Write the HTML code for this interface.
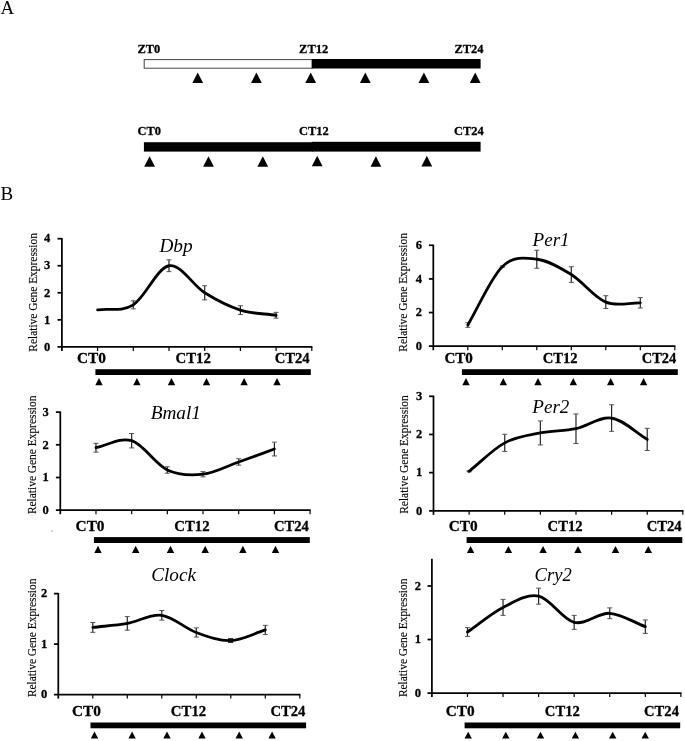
<!DOCTYPE html>
<html><head><meta charset="utf-8"><title>Figure</title>
<style>
html,body{margin:0;padding:0;background:#fff;}
body{width:685px;height:741px;overflow:hidden;}
svg{display:block;font-family:"Liberation Serif",serif;fill:#000;}
</style></head><body>
<svg width="685" height="741" viewBox="0 0 685 741">
<rect width="685" height="741" fill="#fff"/>
<g opacity="0.999">
<text transform="translate(0.50,14.00) scale(1.0,1)" font-size="19" font-weight="normal" font-style="normal" text-anchor="start" >A</text>
<text transform="translate(0.50,200.00) scale(1.0,1)" font-size="19" font-weight="normal" font-style="normal" text-anchor="start" >B</text>
<text transform="translate(137.50,52.60) scale(0.945,1)" font-size="13.2" font-weight="bold" font-style="normal" text-anchor="start"  stroke="#000" stroke-width="0.3">ZT0</text>
<text transform="translate(299.10,52.60) scale(0.945,1)" font-size="13.2" font-weight="bold" font-style="normal" text-anchor="start"  stroke="#000" stroke-width="0.3">ZT12</text>
<text transform="translate(454.50,52.60) scale(0.945,1)" font-size="13.2" font-weight="bold" font-style="normal" text-anchor="start"  stroke="#000" stroke-width="0.3">ZT24</text>
<rect x="144.2" y="59.6" width="168" height="8.6" fill="#fff" stroke="#444" stroke-width="1"/>
<rect x="311.8" y="59" width="168.8" height="9.5" fill="#000"/>
<polygon points="197.7,72.4 192.3,83.0 203.1,83.0" fill="#000"/>
<polygon points="256.4,72.4 251.0,83.0 261.8,83.0" fill="#000"/>
<polygon points="310.7,72.4 305.3,83.0 316.1,83.0" fill="#000"/>
<polygon points="365.3,72.4 359.9,83.0 370.7,83.0" fill="#000"/>
<polygon points="423.9,72.4 418.5,83.0 429.3,83.0" fill="#000"/>
<polygon points="475.2,72.4 469.8,83.0 480.6,83.0" fill="#000"/>
<text transform="translate(137.50,134.70) scale(0.945,1)" font-size="13.2" font-weight="bold" font-style="normal" text-anchor="start"  stroke="#000" stroke-width="0.3">CT0</text>
<text transform="translate(299.00,134.70) scale(0.945,1)" font-size="13.2" font-weight="bold" font-style="normal" text-anchor="start"  stroke="#000" stroke-width="0.3">CT12</text>
<text transform="translate(454.00,134.70) scale(0.945,1)" font-size="13.2" font-weight="bold" font-style="normal" text-anchor="start"  stroke="#000" stroke-width="0.3">CT24</text>
<rect x="143.9" y="142.2" width="169" height="9.4" fill="#000"/>
<rect x="311.8" y="141.8" width="168.8" height="9.8" fill="#000"/>
<polygon points="149.6,156.2 144.2,166.8 155.0,166.8" fill="#000"/>
<polygon points="208.5,156.2 203.1,166.8 213.9,166.8" fill="#000"/>
<polygon points="262.8,156.2 257.4,166.8 268.2,166.8" fill="#000"/>
<polygon points="317.2,155.7 311.8,166.3 322.6,166.3" fill="#000"/>
<polygon points="375.9,156.2 370.5,166.8 381.3,166.8" fill="#000"/>
<polygon points="426.8,155.8 421.4,166.4 432.2,166.4" fill="#000"/>
<line x1="61.90" y1="238.10" x2="61.90" y2="350.90" stroke="#000" stroke-width="1.75"/>
<line x1="57.50" y1="346.90" x2="312.40" y2="346.90" stroke="#000" stroke-width="1.75"/>
<text transform="translate(50.40,350.60) scale(0.93,1)" font-size="13.5" font-weight="bold" font-style="normal" text-anchor="end"  stroke="#000" stroke-width="0.3">0</text>
<line x1="57.50" y1="319.85" x2="61.90" y2="319.85" stroke="#000" stroke-width="1.75"/>
<text transform="translate(50.40,323.55) scale(0.93,1)" font-size="13.5" font-weight="bold" font-style="normal" text-anchor="end"  stroke="#000" stroke-width="0.3">1</text>
<line x1="57.50" y1="292.80" x2="61.90" y2="292.80" stroke="#000" stroke-width="1.75"/>
<text transform="translate(50.40,296.50) scale(0.93,1)" font-size="13.5" font-weight="bold" font-style="normal" text-anchor="end"  stroke="#000" stroke-width="0.3">2</text>
<line x1="57.50" y1="265.75" x2="61.90" y2="265.75" stroke="#000" stroke-width="1.75"/>
<text transform="translate(50.40,269.45) scale(0.93,1)" font-size="13.5" font-weight="bold" font-style="normal" text-anchor="end"  stroke="#000" stroke-width="0.3">3</text>
<line x1="57.50" y1="238.70" x2="61.90" y2="238.70" stroke="#000" stroke-width="1.75"/>
<text transform="translate(50.40,242.40) scale(0.93,1)" font-size="13.5" font-weight="bold" font-style="normal" text-anchor="end"  stroke="#000" stroke-width="0.3">4</text>
<line x1="97.60" y1="346.90" x2="97.60" y2="350.90" stroke="#000" stroke-width="1.2"/>
<line x1="133.30" y1="346.90" x2="133.30" y2="350.90" stroke="#000" stroke-width="1.2"/>
<line x1="169.00" y1="346.90" x2="169.00" y2="350.90" stroke="#000" stroke-width="1.2"/>
<line x1="204.70" y1="346.90" x2="204.70" y2="350.90" stroke="#000" stroke-width="1.2"/>
<line x1="240.40" y1="346.90" x2="240.40" y2="350.90" stroke="#000" stroke-width="1.2"/>
<line x1="276.10" y1="346.90" x2="276.10" y2="350.90" stroke="#000" stroke-width="1.2"/>
<line x1="311.80" y1="346.90" x2="311.80" y2="350.90" stroke="#000" stroke-width="1.2"/>
<text transform="translate(37.2,292.4) rotate(-90)" font-size="13.2" text-anchor="middle" textLength="118.5" lengthAdjust="spacingAndGlyphs" stroke="#000" stroke-width="0.15">Relative Gene Expression</text>
<text transform="translate(77.00,362.60) scale(1.035,1)" font-size="14.8" font-weight="bold" font-style="normal" text-anchor="start"  stroke="#000" stroke-width="0.3">CT0</text>
<text transform="translate(210.90,362.60) scale(1.0,1)" font-size="14.8" font-weight="bold" font-style="normal" text-anchor="end"  stroke="#000" stroke-width="0.3">CT12</text>
<text transform="translate(274.70,362.60) scale(0.99,1)" font-size="14.8" font-weight="bold" font-style="normal" text-anchor="start"  stroke="#000" stroke-width="0.3">CT24</text>
<rect x="95.4" y="369.2" width="215.4" height="5.8" fill="#000"/>
<polygon points="99.0,377.9 95.3,385.2 102.7,385.2" fill="#000"/>
<polygon points="136.9,377.9 133.2,385.2 140.6,385.2" fill="#000"/>
<polygon points="171.5,377.9 167.8,385.2 175.2,385.2" fill="#000"/>
<polygon points="206.5,377.9 202.8,385.2 210.2,385.2" fill="#000"/>
<polygon points="244.1,377.9 240.4,385.2 247.8,385.2" fill="#000"/>
<polygon points="277.0,377.9 273.3,385.2 280.7,385.2" fill="#000"/>
<line x1="133.30" y1="300.84" x2="133.30" y2="308.84" stroke="#262626" stroke-width="1.2"/>
<line x1="130.80" y1="300.84" x2="135.80" y2="300.84" stroke="#555" stroke-width="1"/>
<line x1="130.80" y1="308.84" x2="135.80" y2="308.84" stroke="#555" stroke-width="1"/>
<line x1="169.00" y1="259.85" x2="169.00" y2="271.65" stroke="#262626" stroke-width="1.2"/>
<line x1="166.50" y1="259.85" x2="171.50" y2="259.85" stroke="#555" stroke-width="1"/>
<line x1="166.50" y1="271.65" x2="171.50" y2="271.65" stroke="#555" stroke-width="1"/>
<line x1="204.70" y1="285.70" x2="204.70" y2="299.90" stroke="#262626" stroke-width="1.2"/>
<line x1="202.20" y1="285.70" x2="207.20" y2="285.70" stroke="#555" stroke-width="1"/>
<line x1="202.20" y1="299.90" x2="207.20" y2="299.90" stroke="#555" stroke-width="1"/>
<line x1="240.40" y1="305.71" x2="240.40" y2="314.51" stroke="#262626" stroke-width="1.2"/>
<line x1="237.90" y1="305.71" x2="242.90" y2="305.71" stroke="#555" stroke-width="1"/>
<line x1="237.90" y1="314.51" x2="242.90" y2="314.51" stroke="#555" stroke-width="1"/>
<line x1="276.10" y1="312.35" x2="276.10" y2="318.15" stroke="#262626" stroke-width="1.2"/>
<line x1="273.60" y1="312.35" x2="278.60" y2="312.35" stroke="#555" stroke-width="1"/>
<line x1="273.60" y1="318.15" x2="278.60" y2="318.15" stroke="#555" stroke-width="1"/>
<path d="M97.60,309.84 C109.50,308.17 121.40,312.19 133.30,304.84 C145.20,297.49 157.10,267.76 169.00,265.75 C180.90,263.74 192.80,285.41 204.70,292.80 C216.60,300.19 228.50,306.37 240.40,310.11 C252.30,313.85 264.20,313.54 276.10,315.25" fill="none" stroke="#000" stroke-width="2.8" stroke-linecap="round" stroke-linejoin="round"/>
<text transform="translate(159.40,252.40) scale(1.05,1)" font-size="18.4" font-weight="normal" font-style="italic" text-anchor="start" >Dbp</text>
<line x1="433.30" y1="244.68" x2="433.30" y2="350.20" stroke="#000" stroke-width="1.75"/>
<line x1="428.90" y1="346.20" x2="675.40" y2="346.20" stroke="#000" stroke-width="1.75"/>
<text transform="translate(422.00,349.90) scale(0.93,1)" font-size="13.5" font-weight="bold" font-style="normal" text-anchor="end"  stroke="#000" stroke-width="0.3">0</text>
<line x1="428.90" y1="312.56" x2="433.30" y2="312.56" stroke="#000" stroke-width="1.75"/>
<text transform="translate(422.00,316.26) scale(0.93,1)" font-size="13.5" font-weight="bold" font-style="normal" text-anchor="end"  stroke="#000" stroke-width="0.3">2</text>
<line x1="428.90" y1="278.92" x2="433.30" y2="278.92" stroke="#000" stroke-width="1.75"/>
<text transform="translate(422.00,282.62) scale(0.93,1)" font-size="13.5" font-weight="bold" font-style="normal" text-anchor="end"  stroke="#000" stroke-width="0.3">4</text>
<line x1="428.90" y1="245.28" x2="433.30" y2="245.28" stroke="#000" stroke-width="1.75"/>
<text transform="translate(422.00,248.98) scale(0.93,1)" font-size="13.5" font-weight="bold" font-style="normal" text-anchor="end"  stroke="#000" stroke-width="0.3">6</text>
<line x1="467.80" y1="346.20" x2="467.80" y2="350.20" stroke="#000" stroke-width="1.2"/>
<line x1="502.30" y1="346.20" x2="502.30" y2="350.20" stroke="#000" stroke-width="1.2"/>
<line x1="536.80" y1="346.20" x2="536.80" y2="350.20" stroke="#000" stroke-width="1.2"/>
<line x1="571.30" y1="346.20" x2="571.30" y2="350.20" stroke="#000" stroke-width="1.2"/>
<line x1="605.80" y1="346.20" x2="605.80" y2="350.20" stroke="#000" stroke-width="1.2"/>
<line x1="640.30" y1="346.20" x2="640.30" y2="350.20" stroke="#000" stroke-width="1.2"/>
<line x1="674.80" y1="346.20" x2="674.80" y2="350.20" stroke="#000" stroke-width="1.2"/>
<text transform="translate(406.8,292.4) rotate(-90)" font-size="13.2" text-anchor="middle" textLength="118.5" lengthAdjust="spacingAndGlyphs" stroke="#000" stroke-width="0.15">Relative Gene Expression</text>
<text transform="translate(444.40,362.60) scale(1.035,1)" font-size="14.6" font-weight="bold" font-style="normal" text-anchor="start"  stroke="#000" stroke-width="0.3">CT0</text>
<text transform="translate(577.50,362.60) scale(1.0,1)" font-size="14.6" font-weight="bold" font-style="normal" text-anchor="end"  stroke="#000" stroke-width="0.3">CT12</text>
<text transform="translate(641.80,362.60) scale(0.99,1)" font-size="14.6" font-weight="bold" font-style="normal" text-anchor="start"  stroke="#000" stroke-width="0.3">CT24</text>
<rect x="461.9" y="369.2" width="215.9" height="5.8" fill="#000"/>
<polygon points="466.0,377.9 462.3,385.2 469.7,385.2" fill="#000"/>
<polygon points="503.3,377.9 499.6,385.2 507.0,385.2" fill="#000"/>
<polygon points="538.0,377.9 534.3,385.2 541.7,385.2" fill="#000"/>
<polygon points="573.3,377.9 569.6,385.2 577.0,385.2" fill="#000"/>
<polygon points="610.7,377.9 607.0,385.2 614.4,385.2" fill="#000"/>
<polygon points="643.6,377.9 639.9,385.2 647.3,385.2" fill="#000"/>
<line x1="467.80" y1="322.71" x2="467.80" y2="327.31" stroke="#262626" stroke-width="1.2"/>
<line x1="465.30" y1="322.71" x2="470.30" y2="322.71" stroke="#555" stroke-width="1"/>
<line x1="465.30" y1="327.31" x2="470.30" y2="327.31" stroke="#555" stroke-width="1"/>
<line x1="502.30" y1="265.94" x2="502.30" y2="267.34" stroke="#262626" stroke-width="1.2"/>
<line x1="499.80" y1="265.94" x2="504.80" y2="265.94" stroke="#555" stroke-width="1"/>
<line x1="499.80" y1="267.34" x2="504.80" y2="267.34" stroke="#555" stroke-width="1"/>
<line x1="536.80" y1="250.24" x2="536.80" y2="268.24" stroke="#262626" stroke-width="1.2"/>
<line x1="534.30" y1="250.24" x2="539.30" y2="250.24" stroke="#555" stroke-width="1"/>
<line x1="534.30" y1="268.24" x2="539.30" y2="268.24" stroke="#555" stroke-width="1"/>
<line x1="571.30" y1="266.75" x2="571.30" y2="282.35" stroke="#262626" stroke-width="1.2"/>
<line x1="568.80" y1="266.75" x2="573.80" y2="266.75" stroke="#555" stroke-width="1"/>
<line x1="568.80" y1="282.35" x2="573.80" y2="282.35" stroke="#555" stroke-width="1"/>
<line x1="605.80" y1="295.73" x2="605.80" y2="308.53" stroke="#262626" stroke-width="1.2"/>
<line x1="603.30" y1="295.73" x2="608.30" y2="295.73" stroke="#555" stroke-width="1"/>
<line x1="603.30" y1="308.53" x2="608.30" y2="308.53" stroke="#555" stroke-width="1"/>
<line x1="640.30" y1="297.60" x2="640.30" y2="308.00" stroke="#262626" stroke-width="1.2"/>
<line x1="637.80" y1="297.60" x2="642.80" y2="297.60" stroke="#555" stroke-width="1"/>
<line x1="637.80" y1="308.00" x2="642.80" y2="308.00" stroke="#555" stroke-width="1"/>
<path d="M467.80,325.01 C479.30,305.55 490.80,277.60 502.30,266.64 C513.80,255.68 525.30,257.92 536.80,259.24 C548.30,260.56 559.80,267.40 571.30,274.55 C582.80,281.70 594.30,297.42 605.80,302.13 C617.30,306.84 628.80,302.58 640.30,302.80" fill="none" stroke="#000" stroke-width="2.8" stroke-linecap="round" stroke-linejoin="round"/>
<text transform="translate(532.50,245.90) scale(0.995,1)" font-size="19.2" font-weight="normal" font-style="italic" text-anchor="start" >Per1</text>
<line x1="60.30" y1="411.50" x2="60.30" y2="514.20" stroke="#000" stroke-width="1.75"/>
<line x1="55.90" y1="510.20" x2="310.66" y2="510.20" stroke="#000" stroke-width="1.75"/>
<text transform="translate(48.90,513.90) scale(0.93,1)" font-size="13.5" font-weight="bold" font-style="normal" text-anchor="end"  stroke="#000" stroke-width="0.3">0</text>
<line x1="55.90" y1="477.50" x2="60.30" y2="477.50" stroke="#000" stroke-width="1.75"/>
<text transform="translate(48.90,481.20) scale(0.93,1)" font-size="13.5" font-weight="bold" font-style="normal" text-anchor="end"  stroke="#000" stroke-width="0.3">1</text>
<line x1="55.90" y1="444.80" x2="60.30" y2="444.80" stroke="#000" stroke-width="1.75"/>
<text transform="translate(48.90,448.50) scale(0.93,1)" font-size="13.5" font-weight="bold" font-style="normal" text-anchor="end"  stroke="#000" stroke-width="0.3">2</text>
<line x1="55.90" y1="412.10" x2="60.30" y2="412.10" stroke="#000" stroke-width="1.75"/>
<text transform="translate(48.90,415.80) scale(0.93,1)" font-size="13.5" font-weight="bold" font-style="normal" text-anchor="end"  stroke="#000" stroke-width="0.3">3</text>
<line x1="95.98" y1="510.20" x2="95.98" y2="514.20" stroke="#000" stroke-width="1.2"/>
<line x1="131.66" y1="510.20" x2="131.66" y2="514.20" stroke="#000" stroke-width="1.2"/>
<line x1="167.34" y1="510.20" x2="167.34" y2="514.20" stroke="#000" stroke-width="1.2"/>
<line x1="203.02" y1="510.20" x2="203.02" y2="514.20" stroke="#000" stroke-width="1.2"/>
<line x1="238.70" y1="510.20" x2="238.70" y2="514.20" stroke="#000" stroke-width="1.2"/>
<line x1="274.38" y1="510.20" x2="274.38" y2="514.20" stroke="#000" stroke-width="1.2"/>
<line x1="310.06" y1="510.20" x2="310.06" y2="514.20" stroke="#000" stroke-width="1.2"/>
<text transform="translate(36.4,454.8) rotate(-90)" font-size="13.2" text-anchor="middle" textLength="118.5" lengthAdjust="spacingAndGlyphs" stroke="#000" stroke-width="0.15">Relative Gene Expression</text>
<text transform="translate(75.60,530.70) scale(1.035,1)" font-size="14.8" font-weight="bold" font-style="normal" text-anchor="start"  stroke="#000" stroke-width="0.3">CT0</text>
<text transform="translate(209.60,530.70) scale(1.0,1)" font-size="14.8" font-weight="bold" font-style="normal" text-anchor="end"  stroke="#000" stroke-width="0.3">CT12</text>
<text transform="translate(273.90,530.70) scale(0.99,1)" font-size="14.8" font-weight="bold" font-style="normal" text-anchor="start"  stroke="#000" stroke-width="0.3">CT24</text>
<rect x="93.9" y="537.1" width="215.9" height="5.9" fill="#000"/>
<polygon points="98.0,545.8 94.3,553.0 101.7,553.0" fill="#000"/>
<polygon points="135.7,545.8 132.0,553.0 139.4,553.0" fill="#000"/>
<polygon points="170.5,545.8 166.8,553.0 174.2,553.0" fill="#000"/>
<polygon points="205.2,545.8 201.5,553.0 208.9,553.0" fill="#000"/>
<polygon points="242.9,545.8 239.2,553.0 246.6,553.0" fill="#000"/>
<polygon points="275.5,545.8 271.8,553.0 279.2,553.0" fill="#000"/>
<line x1="95.98" y1="443.34" x2="95.98" y2="452.14" stroke="#262626" stroke-width="1.2"/>
<line x1="93.48" y1="443.34" x2="98.48" y2="443.34" stroke="#555" stroke-width="1"/>
<line x1="93.48" y1="452.14" x2="98.48" y2="452.14" stroke="#555" stroke-width="1"/>
<line x1="131.66" y1="433.51" x2="131.66" y2="447.91" stroke="#262626" stroke-width="1.2"/>
<line x1="129.16" y1="433.51" x2="134.16" y2="433.51" stroke="#555" stroke-width="1"/>
<line x1="129.16" y1="447.91" x2="134.16" y2="447.91" stroke="#555" stroke-width="1"/>
<line x1="167.34" y1="466.78" x2="167.34" y2="473.18" stroke="#262626" stroke-width="1.2"/>
<line x1="164.84" y1="466.78" x2="169.84" y2="466.78" stroke="#555" stroke-width="1"/>
<line x1="164.84" y1="473.18" x2="169.84" y2="473.18" stroke="#555" stroke-width="1"/>
<line x1="203.02" y1="471.63" x2="203.02" y2="476.83" stroke="#262626" stroke-width="1.2"/>
<line x1="200.52" y1="471.63" x2="205.52" y2="471.63" stroke="#555" stroke-width="1"/>
<line x1="200.52" y1="476.83" x2="205.52" y2="476.83" stroke="#555" stroke-width="1"/>
<line x1="238.70" y1="458.77" x2="238.70" y2="465.17" stroke="#262626" stroke-width="1.2"/>
<line x1="236.20" y1="458.77" x2="241.20" y2="458.77" stroke="#555" stroke-width="1"/>
<line x1="236.20" y1="465.17" x2="241.20" y2="465.17" stroke="#555" stroke-width="1"/>
<line x1="274.38" y1="442.15" x2="274.38" y2="455.95" stroke="#262626" stroke-width="1.2"/>
<line x1="271.88" y1="442.15" x2="276.88" y2="442.15" stroke="#555" stroke-width="1"/>
<line x1="271.88" y1="455.95" x2="276.88" y2="455.95" stroke="#555" stroke-width="1"/>
<path d="M95.98,447.74 C107.87,445.40 119.77,437.01 131.66,440.71 C143.55,444.42 155.45,464.39 167.34,469.98 C179.23,475.57 191.13,475.57 203.02,474.23 C214.91,472.89 226.81,466.16 238.70,461.97 C250.59,457.77 262.49,453.36 274.38,449.05" fill="none" stroke="#000" stroke-width="2.8" stroke-linecap="round" stroke-linejoin="round"/>
<text transform="translate(150.70,418.50) scale(1.07,1)" font-size="18" font-weight="normal" font-style="italic" text-anchor="start" >Bmal1</text>
<line x1="433.50" y1="395.69" x2="433.50" y2="514.80" stroke="#000" stroke-width="1.75"/>
<line x1="429.10" y1="510.80" x2="683.44" y2="510.80" stroke="#000" stroke-width="1.75"/>
<text transform="translate(422.40,514.50) scale(0.93,1)" font-size="13.5" font-weight="bold" font-style="normal" text-anchor="end"  stroke="#000" stroke-width="0.3">0</text>
<line x1="429.10" y1="472.63" x2="433.50" y2="472.63" stroke="#000" stroke-width="1.75"/>
<text transform="translate(422.40,476.33) scale(0.93,1)" font-size="13.5" font-weight="bold" font-style="normal" text-anchor="end"  stroke="#000" stroke-width="0.3">1</text>
<line x1="429.10" y1="434.46" x2="433.50" y2="434.46" stroke="#000" stroke-width="1.75"/>
<text transform="translate(422.40,438.16) scale(0.93,1)" font-size="13.5" font-weight="bold" font-style="normal" text-anchor="end"  stroke="#000" stroke-width="0.3">2</text>
<line x1="429.10" y1="396.29" x2="433.50" y2="396.29" stroke="#000" stroke-width="1.75"/>
<text transform="translate(422.40,399.99) scale(0.93,1)" font-size="13.5" font-weight="bold" font-style="normal" text-anchor="end"  stroke="#000" stroke-width="0.3">3</text>
<line x1="469.12" y1="510.80" x2="469.12" y2="514.80" stroke="#000" stroke-width="1.2"/>
<line x1="504.74" y1="510.80" x2="504.74" y2="514.80" stroke="#000" stroke-width="1.2"/>
<line x1="540.36" y1="510.80" x2="540.36" y2="514.80" stroke="#000" stroke-width="1.2"/>
<line x1="575.98" y1="510.80" x2="575.98" y2="514.80" stroke="#000" stroke-width="1.2"/>
<line x1="611.60" y1="510.80" x2="611.60" y2="514.80" stroke="#000" stroke-width="1.2"/>
<line x1="647.22" y1="510.80" x2="647.22" y2="514.80" stroke="#000" stroke-width="1.2"/>
<line x1="682.84" y1="510.80" x2="682.84" y2="514.80" stroke="#000" stroke-width="1.2"/>
<text transform="translate(407.8,454.5) rotate(-90)" font-size="13.2" text-anchor="middle" textLength="118.5" lengthAdjust="spacingAndGlyphs" stroke="#000" stroke-width="0.15">Relative Gene Expression</text>
<text transform="translate(448.70,530.70) scale(1.035,1)" font-size="14.8" font-weight="bold" font-style="normal" text-anchor="start"  stroke="#000" stroke-width="0.3">CT0</text>
<text transform="translate(547.60,530.70) scale(0.99,1)" font-size="14.8" font-weight="bold" font-style="normal" text-anchor="start"  stroke="#000" stroke-width="0.3">CT12</text>
<text transform="translate(646.70,530.70) scale(0.99,1)" font-size="14.8" font-weight="bold" font-style="normal" text-anchor="start"  stroke="#000" stroke-width="0.3">CT24</text>
<rect x="466.6" y="537.1" width="215.7" height="5.9" fill="#000"/>
<polygon points="470.6,546.0 466.9,553.0 474.3,553.0" fill="#000"/>
<polygon points="508.4,546.0 504.7,553.0 512.1,553.0" fill="#000"/>
<polygon points="543.1,546.0 539.4,553.0 546.8,553.0" fill="#000"/>
<polygon points="578.0,546.0 574.3,553.0 581.7,553.0" fill="#000"/>
<polygon points="615.5,546.0 611.8,553.0 619.2,553.0" fill="#000"/>
<polygon points="648.3,546.0 644.6,553.0 652.0,553.0" fill="#000"/>
<line x1="469.12" y1="470.79" x2="469.12" y2="471.79" stroke="#262626" stroke-width="1.2"/>
<line x1="466.62" y1="470.79" x2="471.62" y2="470.79" stroke="#555" stroke-width="1"/>
<line x1="466.62" y1="471.79" x2="471.62" y2="471.79" stroke="#555" stroke-width="1"/>
<line x1="504.74" y1="434.26" x2="504.74" y2="451.46" stroke="#262626" stroke-width="1.2"/>
<line x1="502.24" y1="434.26" x2="507.24" y2="434.26" stroke="#555" stroke-width="1"/>
<line x1="502.24" y1="451.46" x2="507.24" y2="451.46" stroke="#555" stroke-width="1"/>
<line x1="540.36" y1="420.93" x2="540.36" y2="444.93" stroke="#262626" stroke-width="1.2"/>
<line x1="537.86" y1="420.93" x2="542.86" y2="420.93" stroke="#555" stroke-width="1"/>
<line x1="537.86" y1="444.93" x2="542.86" y2="444.93" stroke="#555" stroke-width="1"/>
<line x1="575.98" y1="413.93" x2="575.98" y2="443.53" stroke="#262626" stroke-width="1.2"/>
<line x1="573.48" y1="413.93" x2="578.48" y2="413.93" stroke="#555" stroke-width="1"/>
<line x1="573.48" y1="443.53" x2="578.48" y2="443.53" stroke="#555" stroke-width="1"/>
<line x1="611.60" y1="404.75" x2="611.60" y2="431.35" stroke="#262626" stroke-width="1.2"/>
<line x1="609.10" y1="404.75" x2="614.10" y2="404.75" stroke="#555" stroke-width="1"/>
<line x1="609.10" y1="431.35" x2="614.10" y2="431.35" stroke="#555" stroke-width="1"/>
<line x1="647.22" y1="428.32" x2="647.22" y2="450.52" stroke="#262626" stroke-width="1.2"/>
<line x1="644.72" y1="428.32" x2="649.72" y2="428.32" stroke="#555" stroke-width="1"/>
<line x1="644.72" y1="450.52" x2="649.72" y2="450.52" stroke="#555" stroke-width="1"/>
<path d="M469.12,471.29 C480.99,461.82 492.87,449.25 504.74,442.86 C516.61,436.46 528.49,435.29 540.36,432.93 C552.23,430.58 564.11,431.22 575.98,428.73 C587.85,426.25 599.73,416.27 611.60,418.05 C623.47,419.83 635.35,432.30 647.22,439.42" fill="none" stroke="#000" stroke-width="2.8" stroke-linecap="round" stroke-linejoin="round"/>
<text transform="translate(532.30,413.30) scale(1.06,1)" font-size="18" font-weight="normal" font-style="italic" text-anchor="start" >Per2</text>
<line x1="58.30" y1="593.00" x2="58.30" y2="698.60" stroke="#000" stroke-width="1.75"/>
<line x1="53.90" y1="694.60" x2="300.40" y2="694.60" stroke="#000" stroke-width="1.75"/>
<text transform="translate(47.20,698.30) scale(0.93,1)" font-size="13.5" font-weight="bold" font-style="normal" text-anchor="end"  stroke="#000" stroke-width="0.3">0</text>
<line x1="53.90" y1="644.10" x2="58.30" y2="644.10" stroke="#000" stroke-width="1.75"/>
<text transform="translate(47.20,647.80) scale(0.93,1)" font-size="13.5" font-weight="bold" font-style="normal" text-anchor="end"  stroke="#000" stroke-width="0.3">1</text>
<line x1="53.90" y1="593.60" x2="58.30" y2="593.60" stroke="#000" stroke-width="1.75"/>
<text transform="translate(47.20,597.30) scale(0.93,1)" font-size="13.5" font-weight="bold" font-style="normal" text-anchor="end"  stroke="#000" stroke-width="0.3">2</text>
<line x1="92.80" y1="694.60" x2="92.80" y2="698.60" stroke="#000" stroke-width="1.2"/>
<line x1="127.30" y1="694.60" x2="127.30" y2="698.60" stroke="#000" stroke-width="1.2"/>
<line x1="161.80" y1="694.60" x2="161.80" y2="698.60" stroke="#000" stroke-width="1.2"/>
<line x1="196.30" y1="694.60" x2="196.30" y2="698.60" stroke="#000" stroke-width="1.2"/>
<line x1="230.80" y1="694.60" x2="230.80" y2="698.60" stroke="#000" stroke-width="1.2"/>
<line x1="265.30" y1="694.60" x2="265.30" y2="698.60" stroke="#000" stroke-width="1.2"/>
<line x1="299.80" y1="694.60" x2="299.80" y2="698.60" stroke="#000" stroke-width="1.2"/>
<text transform="translate(36.0,637.8) rotate(-90)" font-size="13.2" text-anchor="middle" textLength="118.5" lengthAdjust="spacingAndGlyphs" stroke="#000" stroke-width="0.15">Relative Gene Expression</text>
<text transform="translate(72.00,715.60) scale(1.035,1)" font-size="14.8" font-weight="bold" font-style="normal" text-anchor="start"  stroke="#000" stroke-width="0.3">CT0</text>
<text transform="translate(206.20,715.60) scale(1.0,1)" font-size="14.8" font-weight="bold" font-style="normal" text-anchor="end"  stroke="#000" stroke-width="0.3">CT12</text>
<text transform="translate(270.40,715.60) scale(0.99,1)" font-size="14.8" font-weight="bold" font-style="normal" text-anchor="start"  stroke="#000" stroke-width="0.3">CT24</text>
<rect x="90.5" y="722.5" width="215.6" height="5.8" fill="#000"/>
<polygon points="94.5,731.5 90.8,738.4 98.2,738.4" fill="#000"/>
<polygon points="132.1,731.5 128.4,738.4 135.8,738.4" fill="#000"/>
<polygon points="167.0,731.5 163.3,738.4 170.7,738.4" fill="#000"/>
<polygon points="202.0,731.5 198.3,738.4 205.7,738.4" fill="#000"/>
<polygon points="239.2,731.5 235.5,738.4 242.9,738.4" fill="#000"/>
<polygon points="272.1,731.5 268.4,738.4 275.8,738.4" fill="#000"/>
<line x1="92.80" y1="622.54" x2="92.80" y2="632.34" stroke="#262626" stroke-width="1.2"/>
<line x1="90.30" y1="622.54" x2="95.30" y2="622.54" stroke="#555" stroke-width="1"/>
<line x1="90.30" y1="632.34" x2="95.30" y2="632.34" stroke="#555" stroke-width="1"/>
<line x1="127.30" y1="616.60" x2="127.30" y2="630.19" stroke="#262626" stroke-width="1.2"/>
<line x1="124.80" y1="616.60" x2="129.80" y2="616.60" stroke="#555" stroke-width="1"/>
<line x1="124.80" y1="630.19" x2="129.80" y2="630.19" stroke="#555" stroke-width="1"/>
<line x1="161.80" y1="610.52" x2="161.80" y2="620.12" stroke="#262626" stroke-width="1.2"/>
<line x1="159.30" y1="610.52" x2="164.30" y2="610.52" stroke="#555" stroke-width="1"/>
<line x1="159.30" y1="620.12" x2="164.30" y2="620.12" stroke="#555" stroke-width="1"/>
<line x1="196.30" y1="627.88" x2="196.30" y2="637.09" stroke="#262626" stroke-width="1.2"/>
<line x1="193.80" y1="627.88" x2="198.80" y2="627.88" stroke="#555" stroke-width="1"/>
<line x1="193.80" y1="637.09" x2="198.80" y2="637.09" stroke="#555" stroke-width="1"/>
<line x1="230.80" y1="639.37" x2="230.80" y2="641.77" stroke="#262626" stroke-width="1.2"/>
<line x1="228.30" y1="639.37" x2="233.30" y2="639.37" stroke="#555" stroke-width="1"/>
<line x1="228.30" y1="641.77" x2="233.30" y2="641.77" stroke="#555" stroke-width="1"/>
<line x1="265.30" y1="625.36" x2="265.30" y2="634.56" stroke="#262626" stroke-width="1.2"/>
<line x1="262.80" y1="625.36" x2="267.80" y2="625.36" stroke="#555" stroke-width="1"/>
<line x1="262.80" y1="634.56" x2="267.80" y2="634.56" stroke="#555" stroke-width="1"/>
<path d="M92.80,627.44 C104.30,626.09 115.80,625.41 127.30,623.39 C138.80,621.38 150.30,613.80 161.80,615.32 C173.30,616.83 184.80,628.28 196.30,632.49 C207.80,636.69 219.30,640.99 230.80,640.57 C242.30,640.14 253.80,633.50 265.30,629.96" fill="none" stroke="#000" stroke-width="2.8" stroke-linecap="round" stroke-linejoin="round"/>
<rect x="228.05" y="638.20" width="5" height="4.6" fill="#0a0a0a"/>
<text transform="translate(151.20,580.70) scale(1.0,1)" font-size="19.2" font-weight="normal" font-style="italic" text-anchor="start" >Clock</text>
<line x1="431.90" y1="558.65" x2="431.90" y2="697.00" stroke="#000" stroke-width="1.75"/>
<line x1="427.50" y1="693.00" x2="681.49" y2="693.00" stroke="#000" stroke-width="1.75"/>
<text transform="translate(421.00,696.70) scale(0.93,1)" font-size="13.5" font-weight="bold" font-style="normal" text-anchor="end"  stroke="#000" stroke-width="0.3">0</text>
<line x1="427.50" y1="639.50" x2="431.90" y2="639.50" stroke="#000" stroke-width="1.75"/>
<text transform="translate(421.00,643.20) scale(0.93,1)" font-size="13.5" font-weight="bold" font-style="normal" text-anchor="end"  stroke="#000" stroke-width="0.3">1</text>
<line x1="427.50" y1="586.00" x2="431.90" y2="586.00" stroke="#000" stroke-width="1.75"/>
<text transform="translate(421.00,589.70) scale(0.93,1)" font-size="13.5" font-weight="bold" font-style="normal" text-anchor="end"  stroke="#000" stroke-width="0.3">2</text>
<line x1="467.47" y1="693.00" x2="467.47" y2="697.00" stroke="#000" stroke-width="1.2"/>
<line x1="503.04" y1="693.00" x2="503.04" y2="697.00" stroke="#000" stroke-width="1.2"/>
<line x1="538.61" y1="693.00" x2="538.61" y2="697.00" stroke="#000" stroke-width="1.2"/>
<line x1="574.18" y1="693.00" x2="574.18" y2="697.00" stroke="#000" stroke-width="1.2"/>
<line x1="609.75" y1="693.00" x2="609.75" y2="697.00" stroke="#000" stroke-width="1.2"/>
<line x1="645.32" y1="693.00" x2="645.32" y2="697.00" stroke="#000" stroke-width="1.2"/>
<line x1="680.89" y1="693.00" x2="680.89" y2="697.00" stroke="#000" stroke-width="1.2"/>
<text transform="translate(406.8,637.8) rotate(-90)" font-size="13.2" text-anchor="middle" textLength="118.5" lengthAdjust="spacingAndGlyphs" stroke="#000" stroke-width="0.15">Relative Gene Expression</text>
<text transform="translate(445.70,715.50) scale(1.035,1)" font-size="14.8" font-weight="bold" font-style="normal" text-anchor="start"  stroke="#000" stroke-width="0.3">CT0</text>
<text transform="translate(544.80,715.50) scale(0.99,1)" font-size="14.8" font-weight="bold" font-style="normal" text-anchor="start"  stroke="#000" stroke-width="0.3">CT12</text>
<text transform="translate(644.00,715.50) scale(0.99,1)" font-size="14.8" font-weight="bold" font-style="normal" text-anchor="start"  stroke="#000" stroke-width="0.3">CT24</text>
<rect x="464.6" y="722.5" width="215.6" height="5.8" fill="#000"/>
<polygon points="468.2,731.7 464.5,738.4 471.9,738.4" fill="#000"/>
<polygon points="505.8,731.7 502.1,738.4 509.5,738.4" fill="#000"/>
<polygon points="540.5,731.7 536.8,738.4 544.2,738.4" fill="#000"/>
<polygon points="575.4,731.7 571.7,738.4 579.1,738.4" fill="#000"/>
<polygon points="612.7,731.7 609.0,738.4 616.4,738.4" fill="#000"/>
<polygon points="645.2,731.7 641.5,738.4 648.9,738.4" fill="#000"/>
<line x1="467.47" y1="627.61" x2="467.47" y2="636.41" stroke="#262626" stroke-width="1.2"/>
<line x1="464.97" y1="627.61" x2="469.97" y2="627.61" stroke="#555" stroke-width="1"/>
<line x1="464.97" y1="636.41" x2="469.97" y2="636.41" stroke="#555" stroke-width="1"/>
<line x1="503.04" y1="599.40" x2="503.04" y2="615.40" stroke="#262626" stroke-width="1.2"/>
<line x1="500.54" y1="599.40" x2="505.54" y2="599.40" stroke="#555" stroke-width="1"/>
<line x1="500.54" y1="615.40" x2="505.54" y2="615.40" stroke="#555" stroke-width="1"/>
<line x1="538.61" y1="588.16" x2="538.61" y2="604.16" stroke="#262626" stroke-width="1.2"/>
<line x1="536.11" y1="588.16" x2="541.11" y2="588.16" stroke="#555" stroke-width="1"/>
<line x1="536.11" y1="604.16" x2="541.11" y2="604.16" stroke="#555" stroke-width="1"/>
<line x1="574.18" y1="615.38" x2="574.18" y2="629.38" stroke="#262626" stroke-width="1.2"/>
<line x1="571.68" y1="615.38" x2="576.68" y2="615.38" stroke="#555" stroke-width="1"/>
<line x1="571.68" y1="629.38" x2="576.68" y2="629.38" stroke="#555" stroke-width="1"/>
<line x1="609.75" y1="607.88" x2="609.75" y2="618.68" stroke="#262626" stroke-width="1.2"/>
<line x1="607.25" y1="607.88" x2="612.25" y2="607.88" stroke="#555" stroke-width="1"/>
<line x1="607.25" y1="618.68" x2="612.25" y2="618.68" stroke="#555" stroke-width="1"/>
<line x1="645.32" y1="619.96" x2="645.32" y2="633.36" stroke="#262626" stroke-width="1.2"/>
<line x1="642.82" y1="619.96" x2="647.82" y2="619.96" stroke="#555" stroke-width="1"/>
<line x1="642.82" y1="633.36" x2="647.82" y2="633.36" stroke="#555" stroke-width="1"/>
<path d="M467.47,632.01 C479.33,623.81 491.18,613.37 503.04,607.40 C514.90,601.43 526.75,593.67 538.61,596.16 C550.47,598.66 562.32,619.53 574.18,622.38 C586.04,625.23 597.89,612.57 609.75,613.28 C621.61,614.00 633.46,622.20 645.32,626.66" fill="none" stroke="#000" stroke-width="2.8" stroke-linecap="round" stroke-linejoin="round"/>
<text transform="translate(534.60,580.70) scale(1.03,1)" font-size="18" font-weight="normal" font-style="italic" text-anchor="start" >Cry2</text>
<rect x="51.5" y="530.5" width="1" height="1" fill="#666"/>
</g>
</svg>
</body></html>
